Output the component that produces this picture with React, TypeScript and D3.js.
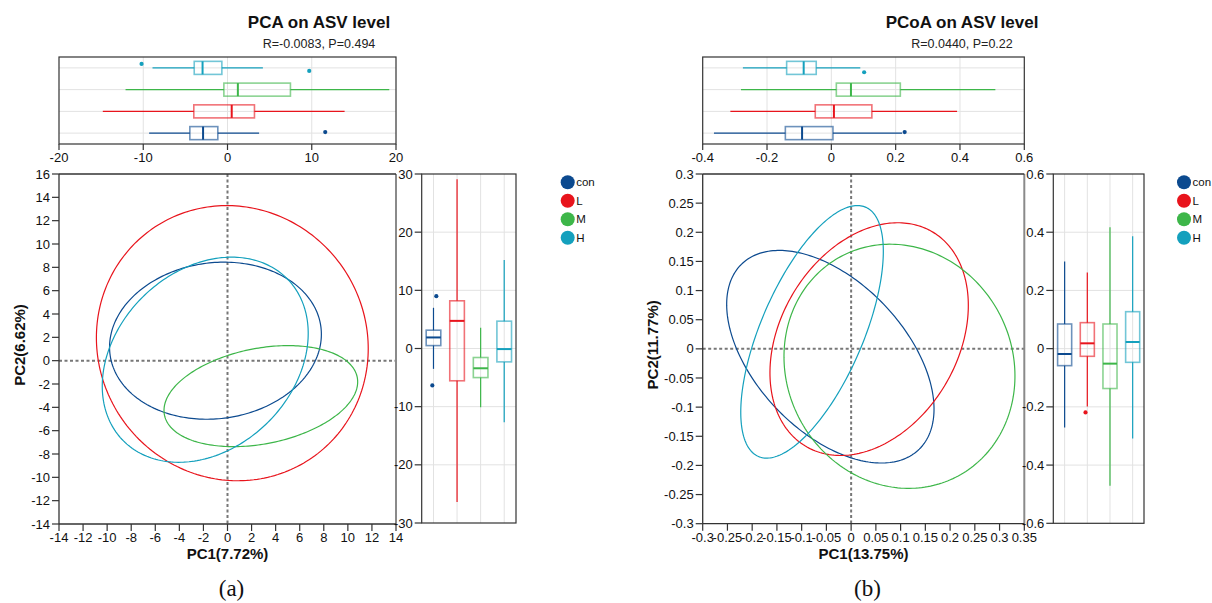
import React from 'react';
import * as d3 from 'd3';

const groups = ['con', 'L', 'M', 'H'];
const colors = ['#0c4a8f', '#e8141c', '#3db649', '#14a0bd'];

// ---------- Panel (a) PCA ----------
const pcaXTicks = [-14, -12, -10, -8, -6, -4, -2, 0, 2, 4, 6, 8, 10, 12, 14];
const pcaYTicks = [-14, -12, -10, -8, -6, -4, -2, 0, 2, 4, 6, 8, 10, 12, 14, 16];
const pcaTopTicks = [-20, -10, 0, 10, 20];
const pcaRightTicks = [-30, -20, -10, 0, 10, 20, 30];

const pcaEllCx = [-1.0, 0.4, 2.77, -1.85];
const pcaEllCy = [1.71, 1.5, -3.04, 0.08];
const pcaEllA = [8.84, 11.88, 8.17, 9.73];
const pcaEllB = [6.68, 11.2, 4.09, 7.47];
const pcaEllAngle = [8.4, -68.6, 11.6, 48];

const pcaTopMin = [-9.3, -14.8, -12.1, -8.9];
const pcaTopQ1 = [-4.47, -4.0, -0.43, -3.95];
const pcaTopMed = [-2.9, 0.5, 1.23, -2.96];
const pcaTopQ3 = [-1.15, 3.2, 7.47, -0.67];
const pcaTopMax = [3.75, 13.9, 19.2, 4.2];
const pcaTopOut = [[11.6], [], [], [-10.2, 9.7]];
const pcaTopOutJit = [[-0.05], [], [], [-0.18, 0.14]];

const pcaRightMin = [-3.5, -26.4, -10.1, -12.7];
const pcaRightQ1 = [0.5, -5.55, -5.0, -2.3];
const pcaRightMed = [1.9, 4.75, -3.4, -0.1];
const pcaRightQ3 = [3.15, 8.2, -1.55, 4.7];
const pcaRightMax = [7.0, 29.1, 3.55, 15.2];
const pcaRightOut = [[9.0, -6.35], [], [], []];
const pcaRightOutJit = [[0.12, -0.05], [], [], []];

// ---------- Panel (b) PCoA ----------
const pcoaXTicks = [-0.3, -0.25, -0.2, -0.15, -0.1, -0.05, 0, 0.05, 0.1, 0.15, 0.2, 0.25, 0.3, 0.35];
const pcoaYTicks = [-0.3, -0.25, -0.2, -0.15, -0.1, -0.05, 0, 0.05, 0.1, 0.15, 0.2, 0.25, 0.3];
const pcoaTopTicks = [-0.4, -0.2, 0, 0.2, 0.4, 0.6];
const pcoaRightTicks = [-0.6, -0.4, -0.2, 0, 0.2, 0.4, 0.6];

const pcoaEllCx = [-0.042, 0.0364, 0.0977, -0.079];
const pcoaEllCy = [-0.0135, 0.0167, -0.0299, 0.0292];
const pcoaEllA = [0.2411, 0.2272, 0.2361, 0.2401];
const pcoaEllB = [0.138, 0.1686, 0.2064, 0.1003];
const pcoaEllAngle = [-37.1, 44.6, -18.05, 61.7];

const pcoaTopMin = [-0.365, -0.314, -0.281, -0.275];
const pcoaTopQ1 = [-0.143, -0.05, 0.0155, -0.139];
const pcoaTopMed = [-0.091, 0.008, 0.061, -0.086];
const pcoaTopQ3 = [0.005, 0.126, 0.2145, -0.047];
const pcoaTopMax = [0.22, 0.391, 0.51, 0.09];
const pcoaTopOut = [[0.228], [], [], [0.102]];
const pcoaTopOutJit = [[-0.05], [], [], [0.2]];

const pcoaRightMin = [-0.271, -0.199, -0.471, -0.309];
const pcoaRightQ1 = [-0.0584, -0.0263, -0.137, -0.047];
const pcoaRightMed = [-0.0183, 0.0183, -0.0515, 0.0229];
const pcoaRightQ3 = [0.0847, 0.0893, 0.0847, 0.127];
const pcoaRightMax = [0.299, 0.262, 0.417, 0.386];
const pcoaRightOut = [[], [-0.219], [], []];
const pcoaRightOutJit = [[], [-0.08], [], []];

const fmt = (v: number) => String(+v.toFixed(2));
const FONT = '"Liberation Sans", Arial, sans-serif';

type BoxStats = { min: number[]; q1: number[]; med: number[]; q3: number[]; max: number[]; out: number[][]; jit: number[][] };

function buildStats(min: number[], q1: number[], med: number[], q3: number[], max: number[], out: number[][], jit: number[][]): BoxStats {
  return { min, q1, med, q3, max, out, jit };
}

interface PanelProps {
  mx0: number; mx1: number; my0: number; my1: number;
  ty0: number; ty1: number;
  rx0: number; rx1: number; ry0: number; ry1: number;
  legendX: number;
  title: string; subtitle: string; titleX: number;
  xLabel: string; yLabel: string; yLabelX: number; panelLabel: string;
  xTicks: number[]; yTicks: number[]; topTicks: number[]; rightTicks: number[];
  ell: { cx: number[]; cy: number[]; a: number[]; b: number[]; ang: number[] };
  top: BoxStats; right: BoxStats;
}

function Panel(p: PanelProps) {
  const x = d3.scaleLinear().domain([p.xTicks[0], p.xTicks[p.xTicks.length - 1]]).range([p.mx0, p.mx1]);
  const y = d3.scaleLinear().domain([p.yTicks[0], p.yTicks[p.yTicks.length - 1]]).range([p.my1, p.my0]);
  const tx = d3.scaleLinear().domain([p.topTicks[0], p.topTicks[p.topTicks.length - 1]]).range([p.mx0, p.mx1]);
  const ty = d3.scaleBand<string>().domain(['H', 'M', 'L', 'con']).range([p.ty0, p.ty1]);
  const ry = d3.scaleLinear().domain([p.rightTicks[0], p.rightTicks[p.rightTicks.length - 1]]).range([p.ry1, p.ry0]);
  const rx = d3.scaleBand<string>().domain(groups).range([p.rx0, p.rx1]);

  const line = d3.line<[number, number]>().curve(d3.curveLinearClosed);
  const ts = d3.range(0, 2 * Math.PI, Math.PI / 120);
  const ellPaths = groups.map((g, i) => {
    const phi = (p.ell.ang[i] * Math.PI) / 180;
    const pts: [number, number][] = ts.map((t) => {
      const ex = p.ell.cx[i] + p.ell.a[i] * Math.cos(t) * Math.cos(phi) - p.ell.b[i] * Math.sin(t) * Math.sin(phi);
      const ey = p.ell.cy[i] + p.ell.a[i] * Math.cos(t) * Math.sin(phi) + p.ell.b[i] * Math.sin(t) * Math.cos(phi);
      return [x(ex), y(ey)];
    });
    return line(pts) as string;
  });

  const grid = '#e2e2e2';
  const axisCol = '#333';
  const tickFs = 13;
  const topBw = ty.bandwidth() * 0.6;
  const rightBw = rx.bandwidth() * 0.62;

  return (
    <g fontFamily={FONT}>
      {/* Titles */}
      <text x={p.titleX} y={28} textAnchor="middle" fontSize={17} fontWeight="bold" fill="#111">{p.title}</text>
      <text x={p.titleX} y={48} textAnchor="middle" fontSize={12.5} fill="#222">{p.subtitle}</text>

      {/* ---- top boxplot ---- */}
      <g>
        {p.topTicks.slice(1, -1).map((t) => (
          <line key={'tg' + t} x1={tx(t)} x2={tx(t)} y1={p.ty0} y2={p.ty1} stroke={grid} strokeWidth={1} />
        ))}
        {groups.map((g) => (
          <line key={'th' + g} x1={p.mx0} x2={p.mx1} y1={ty(g)! + ty.bandwidth() / 2} y2={ty(g)! + ty.bandwidth() / 2} stroke={grid} strokeWidth={1} />
        ))}
        {groups.map((g, i) => {
          const cy = ty(g)! + ty.bandwidth() / 2;
          const c = colors[i];
          const s = p.top;
          return (
            <g key={'tb' + g}>
              <line x1={tx(s.min[i])} x2={tx(s.q1[i])} y1={cy} y2={cy} stroke={c} strokeWidth={1.2} />
              <line x1={tx(s.q3[i])} x2={tx(s.max[i])} y1={cy} y2={cy} stroke={c} strokeWidth={1.2} />
              <rect x={tx(s.q1[i])} y={cy - topBw / 2} width={tx(s.q3[i]) - tx(s.q1[i])} height={topBw} fill="none" stroke={c} strokeOpacity={0.6} strokeWidth={1.6} />
              <line x1={tx(s.med[i])} x2={tx(s.med[i])} y1={cy - topBw / 2} y2={cy + topBw / 2} stroke={c} strokeWidth={2} />
              {s.out[i].map((v, k) => (
                <circle key={k} cx={tx(v)} cy={cy + s.jit[i][k] * ty.bandwidth()} r={2.1} fill={c} />
              ))}
            </g>
          );
        })}
        <rect x={p.mx0} y={p.ty0} width={p.mx1 - p.mx0} height={p.ty1 - p.ty0} fill="none" stroke={axisCol} strokeWidth={1.2} />
        {p.topTicks.map((t) => (
          <g key={'tt' + t}>
            <line x1={tx(t)} x2={tx(t)} y1={p.ty1} y2={p.ty1 + 6} stroke={axisCol} strokeWidth={1.2} />
            <text x={tx(t)} y={p.ty1 + 18} textAnchor="middle" fontSize={tickFs} fill="#111">{fmt(t)}</text>
          </g>
        ))}
      </g>

      {/* ---- main scatter ---- */}
      <g>
        <line x1={x(0)} x2={x(0)} y1={p.my0} y2={p.my1} stroke="#777" strokeWidth={2} strokeDasharray="3,2.5" />
        <line x1={p.mx0} x2={p.mx1} y1={y(0)} y2={y(0)} stroke="#777" strokeWidth={2} strokeDasharray="3,2.5" />
        {ellPaths.map((d, i) => (
          <path key={'e' + i} d={d} fill="none" stroke={colors[i]} strokeWidth={1.2} />
        ))}
        <line x1={p.mx1} x2={p.mx1} y1={p.my0} y2={p.my1} stroke="#8a8a8a" strokeWidth={2} />
        <line x1={p.mx0} x2={p.mx1} y1={p.my0} y2={p.my0} stroke={axisCol} strokeWidth={1.3} />
        <line x1={p.mx0} x2={p.mx1} y1={p.my1} y2={p.my1} stroke={axisCol} strokeWidth={1.3} />
        <line x1={p.mx0} x2={p.mx0} y1={p.my0} y2={p.my1} stroke={axisCol} strokeWidth={1.3} />
        {p.xTicks.map((t) => (
          <g key={'xt' + t}>
            <line x1={x(t)} x2={x(t)} y1={p.my1} y2={p.my1 + 7} stroke={axisCol} strokeWidth={1.2} />
            <text x={x(t)} y={p.my1 + 18} textAnchor="middle" fontSize={tickFs} fill="#111">{fmt(t)}</text>
          </g>
        ))}
        {p.yTicks.map((t) => (
          <g key={'yt' + t}>
            <line x1={p.mx0 - 7} x2={p.mx0} y1={y(t)} y2={y(t)} stroke={axisCol} strokeWidth={1.2} />
            <text x={p.mx0 - 9} y={y(t)} dy="0.35em" textAnchor="end" fontSize={tickFs} fill="#111">{fmt(t)}</text>
          </g>
        ))}
        <text x={(p.mx0 + p.mx1) / 2} y={559} textAnchor="middle" fontSize={15} fontWeight="bold" fill="#111">{p.xLabel}</text>
        <text transform={`translate(${p.yLabelX},${(p.my0 + p.my1) / 2 - 4}) rotate(-90)`} textAnchor="middle" dy="0.35em" fontSize={15} fontWeight="bold" fill="#111">{p.yLabel}</text>
        <text x={(p.mx0 + p.mx1) / 2 + 4} y={596} textAnchor="middle" fontSize={23} fontFamily='"Liberation Serif", "Times New Roman", serif' fill="#111">{p.panelLabel}</text>
      </g>

      {/* ---- right boxplot ---- */}
      <g>
        {p.rightTicks.slice(1, -1).map((t) => (
          <line key={'rg' + t} x1={p.rx0} x2={p.rx1} y1={ry(t)} y2={ry(t)} stroke={grid} strokeWidth={1} />
        ))}
        {groups.map((g) => (
          <line key={'rv' + g} x1={rx(g)! + rx.bandwidth() / 2} x2={rx(g)! + rx.bandwidth() / 2} y1={p.ry0} y2={p.ry1} stroke={grid} strokeWidth={1} />
        ))}
        {groups.map((g, i) => {
          const cx = rx(g)! + rx.bandwidth() / 2;
          const c = colors[i];
          const s = p.right;
          return (
            <g key={'rb' + g}>
              <line x1={cx} x2={cx} y1={ry(s.min[i])} y2={ry(s.q1[i])} stroke={c} strokeWidth={1.2} />
              <line x1={cx} x2={cx} y1={ry(s.q3[i])} y2={ry(s.max[i])} stroke={c} strokeWidth={1.2} />
              <rect x={cx - rightBw / 2} y={ry(s.q3[i])} width={rightBw} height={ry(s.q1[i]) - ry(s.q3[i])} fill="none" stroke={c} strokeOpacity={0.6} strokeWidth={1.6} />
              <line x1={cx - rightBw / 2} x2={cx + rightBw / 2} y1={ry(s.med[i])} y2={ry(s.med[i])} stroke={c} strokeWidth={2} />
              {s.out[i].map((v, k) => (
                <circle key={k} cx={cx + s.jit[i][k] * rx.bandwidth()} cy={ry(v)} r={2.1} fill={c} />
              ))}
            </g>
          );
        })}
        <rect x={p.rx0} y={p.ry0} width={p.rx1 - p.rx0} height={p.ry1 - p.ry0} fill="none" stroke={axisCol} strokeWidth={1.2} />
        {p.rightTicks.map((t) => (
          <g key={'rt' + t}>
            <line x1={p.rx0 - 7} x2={p.rx0} y1={ry(t)} y2={ry(t)} stroke={axisCol} strokeWidth={1.2} />
            <text x={p.rx0 - 9} y={ry(t)} dy="0.35em" textAnchor="end" fontSize={tickFs} fill="#111">{fmt(t)}</text>
          </g>
        ))}
      </g>

      {/* ---- legend ---- */}
      <g>
        {groups.map((g, i) => (
          <g key={'lg' + g}>
            <circle cx={p.legendX} cy={182.3 + i * 18.5} r={7} fill={colors[i]} />
            <text x={p.legendX + 8.5} y={182.3 + i * 18.5} dy="0.35em" fontSize={11.5} fill="#111">{g}</text>
          </g>
        ))}
      </g>
    </g>
  );
}

export default function App() {
  return (
    <svg width={1212} height={603} style={{ position: 'absolute', left: 0, top: 0, background: '#fff' }}>
      <rect width={1212} height={603} fill="#fff" />
      <Panel
        mx0={59} mx1={396} my0={174} my1={524}
        ty0={57} ty1={144}
        rx0={421.7} rx1={516} ry0={174} ry1={523}
        legendX={567.7}
        title="PCA on ASV level" subtitle="R=-0.0083, P=0.494" titleX={319}
        xLabel="PC1(7.72%)" yLabel="PC2(6.62%)" yLabelX={20} panelLabel="(a)"
        xTicks={pcaXTicks} yTicks={pcaYTicks} topTicks={pcaTopTicks} rightTicks={pcaRightTicks}
        ell={{ cx: pcaEllCx, cy: pcaEllCy, a: pcaEllA, b: pcaEllB, ang: pcaEllAngle }}
        top={buildStats(pcaTopMin, pcaTopQ1, pcaTopMed, pcaTopQ3, pcaTopMax, pcaTopOut, pcaTopOutJit)}
        right={buildStats(pcaRightMin, pcaRightQ1, pcaRightMed, pcaRightQ3, pcaRightMax, pcaRightOut, pcaRightOutJit)}
      />
      <Panel
        mx0={702.7} mx1={1024.3} my0={174} my1={523.7}
        ty0={57} ty1={144}
        rx0={1053.3} rx1={1144} ry0={174} ry1={523.3}
        legendX={1184}
        title="PCoA on ASV level" subtitle="R=0.0440, P=0.22" titleX={962}
        xLabel="PC1(13.75%)" yLabel="PC2(11.77%)" yLabelX={653} panelLabel="(b)"
        xTicks={pcoaXTicks} yTicks={pcoaYTicks} topTicks={pcoaTopTicks} rightTicks={pcoaRightTicks}
        ell={{ cx: pcoaEllCx, cy: pcoaEllCy, a: pcoaEllA, b: pcoaEllB, ang: pcoaEllAngle }}
        top={buildStats(pcoaTopMin, pcoaTopQ1, pcoaTopMed, pcoaTopQ3, pcoaTopMax, pcoaTopOut, pcoaTopOutJit)}
        right={buildStats(pcoaRightMin, pcoaRightQ1, pcoaRightMed, pcoaRightQ3, pcoaRightMax, pcoaRightOut, pcoaRightOutJit)}
      />
    </svg>
  );
}
